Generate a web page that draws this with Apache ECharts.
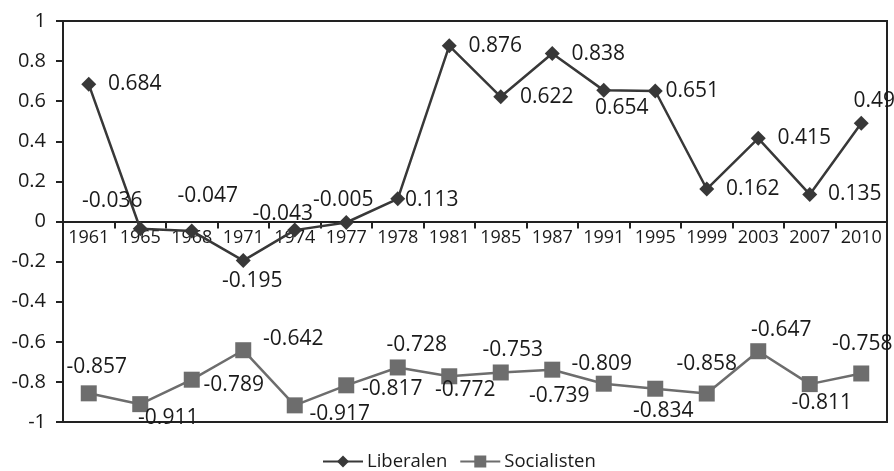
<!DOCTYPE html>
<html>
<head>
<meta charset="utf-8">
<script src="https://cdn.jsdelivr.net/npm/echarts@6/dist/echarts.min.js"></script>
<style>html,body{margin:0;padding:0;background:#fff;}#c{width:894px;height:471px;}</style>
</head>
<body>
<div id="c"></div>
<script>
const categories = ['1961','1965','1968','1971','1974','1977','1978','1981','1985','1987','1991','1995','1999','2003','2007','2010'];
const liberalen = [0.684,-0.036,-0.047,-0.195,-0.043,-0.005,0.113,0.876,0.622,0.838,0.654,0.651,0.162,0.415,0.135,0.49];
const socialisten = [-0.857,-0.911,-0.789,-0.642,-0.917,-0.817,-0.728,-0.772,-0.753,-0.739,-0.809,-0.834,-0.858,-0.647,-0.811,-0.758];
const yMin = -1, yMax = 1, yInterval = 0.2;

// label placement (offset of label centre from marker centre, px)
const libLabelOffsets = [[46,0],[-28,-28],[16,-35],[9,20],[-12,-16],[-3,-22],[34,1],[46,0],[46,0],[46,1],[18,18],[37,0],[46,0],[46,0],[45,0],[13,-22]];
const socLabelOffsets = [[8,-26],[28,14],[42,5],[50,-11],[45,9],[46,4],[19,-22],[16,14],[12,-22],[7,26],[-2,-20],[8,22],[0,-30],[23,-21],[12,19],[1,-29]];

const FONT = '"Open Sans", "Noto Sans", sans-serif';
const TXT = '#1a1a1a';

const W = 894, H = 471;
const grid = {left: 63, top: 21, right: 7, bottom: 49};
const gridH = H - grid.top - grid.bottom;
// move the category axis up to the value-axis zero line
const zeroOffset = -gridH * (0 - yMin) / (yMax - yMin);

const chart = echarts.init(document.getElementById('c'), null, {renderer: 'canvas'});
const labelBase = {show: true, position: 'inside', color: TXT, fontFamily: FONT, fontSize: 21};

chart.setOption({
  animation: false,
  backgroundColor: '#fff',
  grid: Object.assign({show: true, borderColor: '#222', borderWidth: 2, backgroundColor: 'transparent'}, grid),
  legend: {
    left: 322, top: 452, padding: 0, itemWidth: 40, itemHeight: 15, itemGap: 12,
    textStyle: {color: TXT, fontFamily: FONT, fontSize: 18.5, padding: [0,0,0,-1]},
    data: ['Liberalen', 'Socialisten']
  },
  xAxis: {
    type: 'category', data: categories, boundaryGap: true,
    offset: zeroOffset,
    axisLine: {onZero: false, lineStyle: {color: '#222', width: 2}},
    axisTick: {show: true, length: 7, lineStyle: {color: '#222', width: 2}},
    axisLabel: {color: TXT, fontFamily: FONT, fontSize: 18, margin: 7, interval: 0},
    splitLine: {show: false}
  },
  yAxis: {
    type: 'value', min: yMin, max: yMax, interval: yInterval,
    axisLine: {show: true, lineStyle: {color: '#222', width: 2}},
    axisTick: {show: true, length: 7, lineStyle: {color: '#222', width: 2}},
    axisLabel: {color: TXT, fontFamily: FONT, fontSize: 20, margin: 17},
    splitLine: {show: false}
  },
  series: [
    {
      name: 'Liberalen', type: 'line', symbol: 'diamond', symbolSize: 15,
      lineStyle: {color: '#383838', width: 2.5}, itemStyle: {color: '#383838'},
      label: labelBase,
      data: liberalen.map((v, i) => ({value: v, label: {offset: libLabelOffsets[i]}})),
      z: 3
    },
    {
      name: 'Socialisten', type: 'line', symbol: 'rect', symbolSize: 16,
      lineStyle: {color: '#6d6d6d', width: 2.5}, itemStyle: {color: '#6d6d6d'},
      label: labelBase,
      data: socialisten.map((v, i) => ({value: v, label: {offset: socLabelOffsets[i]}})),
      z: 2
    }
  ]
});
</script>
</body>
</html>
